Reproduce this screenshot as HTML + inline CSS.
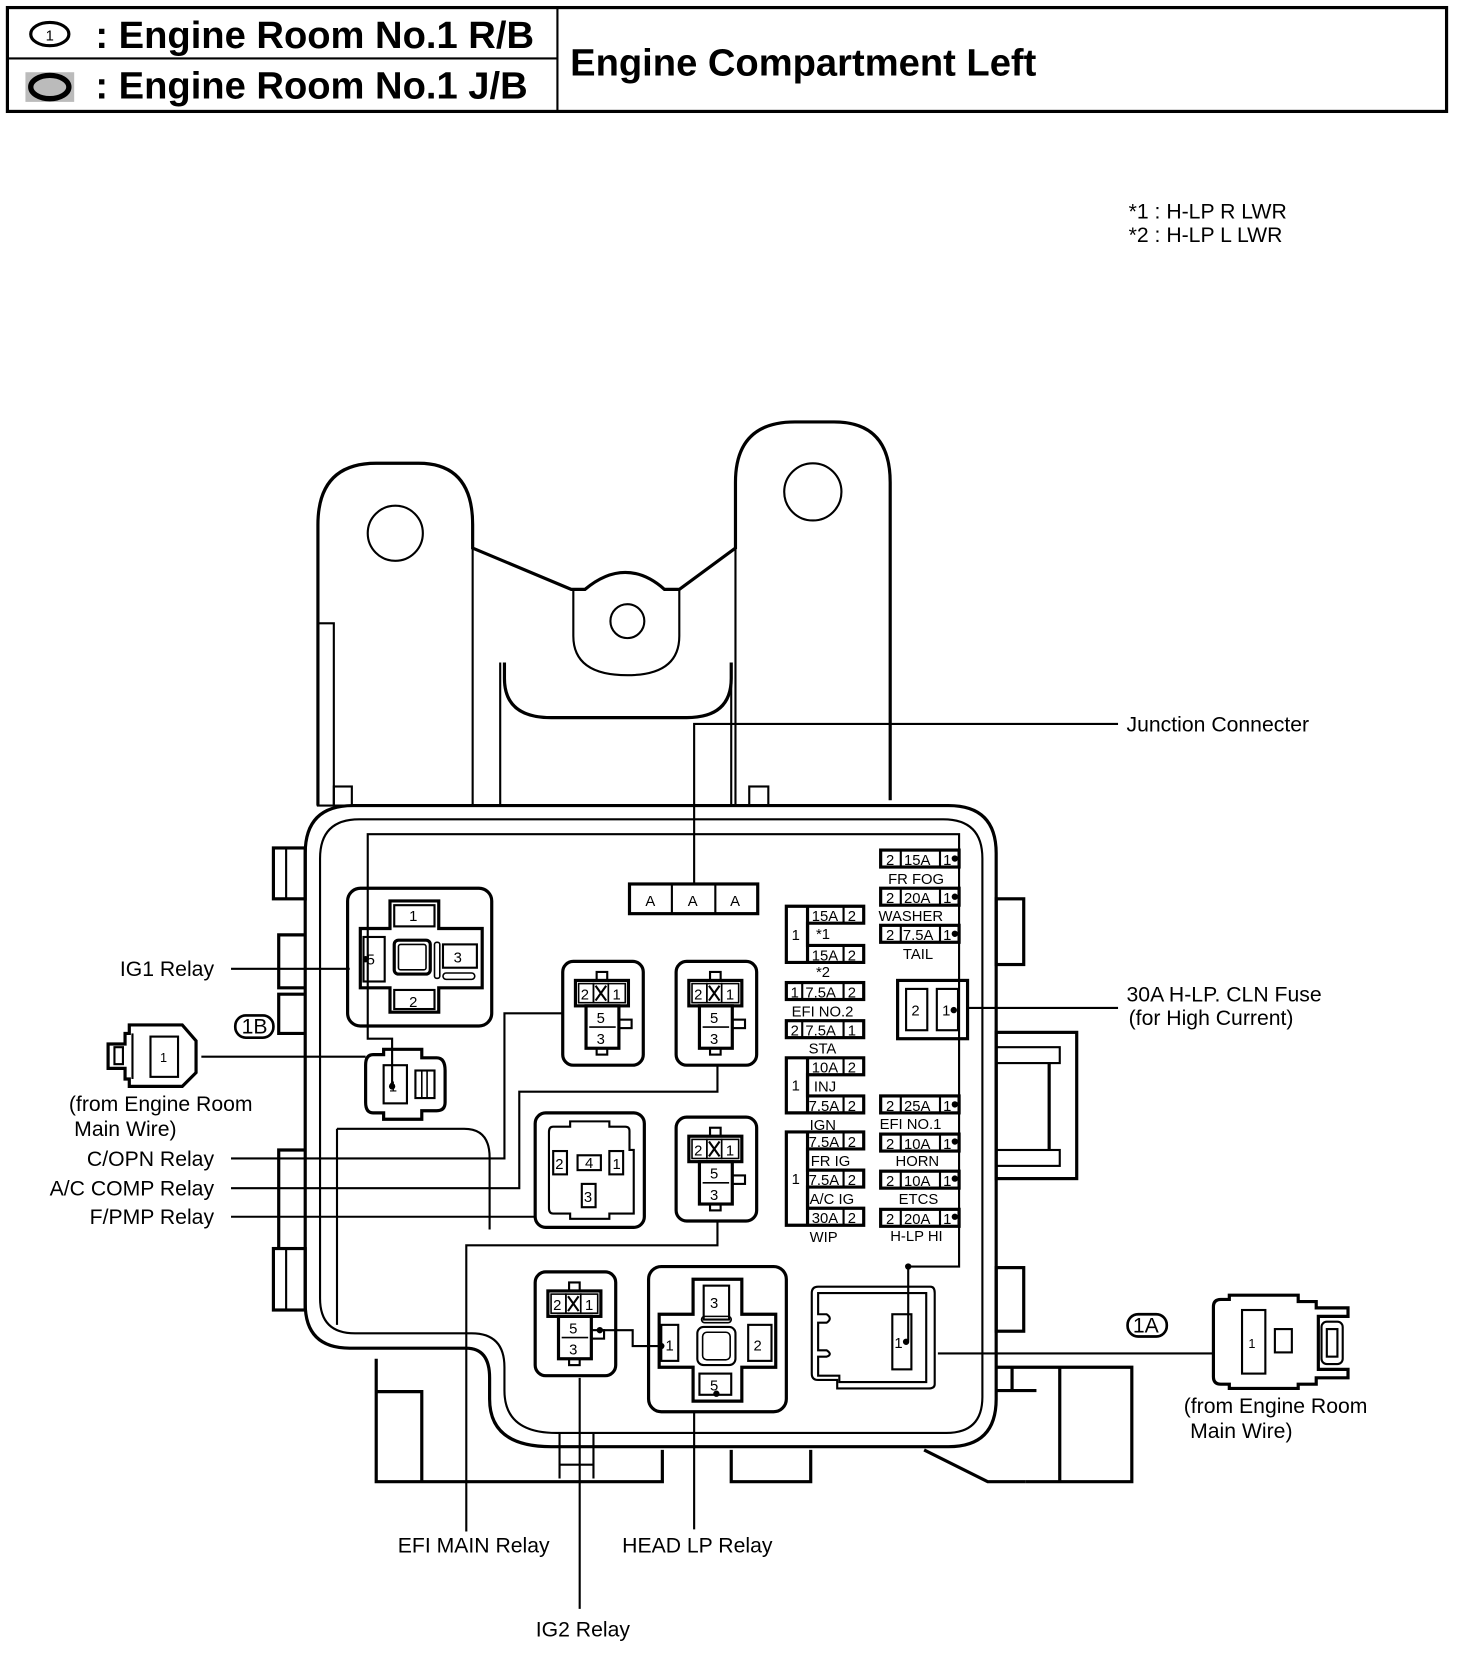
<!DOCTYPE html>
<html><head><meta charset="utf-8"><style>
html,body{margin:0;padding:0;background:#fff}
svg{display:block}
text{font-family:"Liberation Sans",sans-serif;fill:#000}
.t{font-size:20px}
.f{font-size:14px}
.h{font-size:36px;font-weight:bold}
</style></head><body>
<svg width="1472" height="1662" viewBox="0 0 1389 1568" xmlns="http://www.w3.org/2000/svg">
<g fill="none" stroke="#000">
<!-- header -->
<rect x="7" y="7" width="1358" height="98" stroke-width="3"/>
<line x1="526" y1="7" x2="526" y2="105" stroke-width="2"/>
<line x1="7" y1="55" x2="526" y2="55" stroke-width="2"/>
<ellipse cx="47" cy="32" rx="18" ry="11" stroke-width="3"/>
<rect x="24" y="68" width="46" height="28" fill="#bbb" stroke="none"/>
<ellipse cx="47" cy="82" rx="18" ry="11" stroke-width="5"/>
</g>
<text x="43" y="38" style="font-size:14px">1</text>
<text x="90" y="45" class="h">: Engine Room No.1 R/B</text>
<text x="90" y="93" class="h">: Engine Room No.1 J/B</text>
<text x="538" y="71" class="h">Engine Compartment Left</text>

<text x="1065" y="206" class="t">*1 : H-LP R LWR</text>
<text x="1065" y="228" class="t">*2 : H-LP L LWR</text>

<g fill="none" stroke="#000" stroke-width="3">
<!-- bracket -->
<path d="M300,760 V495 Q300,437 355,437 H395 Q446,437 446,495 V517 L539,556 H552 Q571,540 590,540 Q609,540 627,556 H641 L694,517 V455 Q694,398 750,398 H787 Q840,398 840,455 V755"/>
<circle cx="373" cy="503" r="26" stroke-width="2"/>
<circle cx="767" cy="464" r="27" stroke-width="2"/>
<circle cx="592" cy="586" r="16" stroke-width="2"/>
<path d="M541,556 V600 Q541,637 592,637 Q641,637 641,600 V556" stroke-width="2"/>
<path d="M476,625 V640 Q476,677 520,677 H648 Q690,677 690,640 V625" />
<g stroke-width="2">
<line x1="446" y1="517" x2="446" y2="760"/>
<line x1="472" y1="625" x2="472" y2="760"/>
<line x1="690" y1="625" x2="690" y2="760"/>
<line x1="694" y1="517" x2="694" y2="760"/>
<rect x="300" y="588" width="15" height="172"/>
<rect x="315" y="742" width="17" height="18"/>
<rect x="707" y="742" width="18" height="18"/>
</g>
<!-- housing -->
<path d="M288,805 Q288,760 333,760 H895 Q940,760 940,805 V1320 Q940,1365 895,1365 H520 Q462,1365 462,1320 V1300 Q462,1272 440,1272 H330 Q288,1272 288,1230 Z"/>
<path d="M302,810 Q302,773 339,773 H890 Q927,773 927,810 V1318 Q927,1352 893,1352 H525 Q476,1352 476,1312 V1290 Q476,1258 445,1258 H335 Q302,1258 302,1225 Z" stroke-width="2"/>
<path d="M318,1065 H438 Q462,1065 462,1092 V1160" stroke-width="2"/>
<line x1="318" y1="1065" x2="318" y2="1250" stroke-width="2"/>
<!-- left tabs -->
<rect x="258" y="800" width="30" height="48"/>
<line x1="270" y1="800" x2="270" y2="848" stroke-width="2"/>
<path d="M288,882 H263 V932 H288 M288,938 H263 V975 H288"/>
<path d="M288,1085 H263 V1178"/>
<rect x="258" y="1178" width="30" height="58"/>
<line x1="270" y1="1178" x2="270" y2="1236" stroke-width="2"/>
<!-- right tabs -->
<rect x="940" y="848" width="26" height="62"/>
<rect x="940" y="974" width="76" height="138"/>
<rect x="940" y="988" width="60" height="15" stroke-width="2"/>
<rect x="940" y="1085" width="60" height="15" stroke-width="2"/>
<line x1="990" y1="1003" x2="990" y2="1085"/>
<rect x="940" y="1196" width="26" height="60"/>
<path d="M940,1290 H1068 V1398 H968 M1000,1290 V1398 M940,1312 H978 M955,1290 V1312"/>
<!-- bottom base -->
<path d="M355,1282 V1398 H625 V1368 M355,1313 H398 V1398" />
<path d="M690,1368 V1398 H765 V1368"/>
<path d="M872,1368 L932,1398 H968" />
<path d="M528,1352 V1395 M560,1352 V1395 M528,1382 H560" stroke-width="2"/>

<!-- IG1 relay -->
<rect x="328" y="838" width="136" height="130" rx="12"/>
<path d="M368,850 H414 V876 H455 V932 H414 V955 H368 V932 H340 V876 H368 Z"/>
<rect x="372" y="854" width="38" height="20" stroke-width="2"/>
<rect x="372" y="934" width="38" height="18" stroke-width="2"/>
<rect x="343" y="884" width="20" height="42" stroke-width="2"/>
<rect x="418" y="891" width="32" height="22" stroke-width="2"/>
<rect x="372" y="887" width="34" height="32" rx="4"/>
<rect x="376" y="891" width="26" height="24" rx="2" stroke-width="1.5"/>
<rect x="410" y="889" width="5" height="34" rx="2" stroke-width="1.5"/>
<rect x="418" y="918" width="30" height="6" rx="3" stroke-width="1.5"/>
</g>
<text x="386" y="869" class="f">1</text>
<text x="386" y="950" class="f">2</text>
<text x="346" y="910" class="f">5</text>
<text x="428" y="908" class="f">3</text>

<g fill="none" stroke="#000" stroke-width="3">
<!-- 1B inner connector -->
<path d="M352,995 H362 V990 H398 V998 H412 Q420,998 420,1010 V1040 Q420,1048 412,1048 H398 V1056 H362 V1050 H352 Q345,1050 345,1040 V1005 Q345,995 352,995 Z"/>
<rect x="362" y="1005" width="22" height="36" stroke-width="2"/>
<rect x="392" y="1010" width="18" height="26" stroke-width="2"/>
<line x1="398" y1="1010" x2="398" y2="1036" stroke-width="1.5"/>
<line x1="403" y1="1010" x2="403" y2="1036" stroke-width="1.5"/>
</g>
<text x="367" y="1030" class="f">1</text>

<!-- 4-pin relays -->
<g id="r4" fill="none" stroke="#000">
<rect x="531" y="907" width="76" height="98" rx="10" stroke-width="3"/>
<rect x="543" y="925" width="50" height="24" stroke-width="3"/>
<rect x="563" y="917" width="10" height="8" stroke-width="2"/>
<rect x="546" y="928" width="14" height="18" stroke-width="1.5"/>
<rect x="560" y="928" width="14" height="18" stroke-width="1.5"/>
<rect x="574" y="928" width="16" height="18" stroke-width="1.5"/>
<path d="M562,930 L572,944 M572,930 L562,944" stroke-width="2"/>
<rect x="553" y="949" width="31" height="40" stroke-width="3"/>
<line x1="556" y1="969" x2="581" y2="969" stroke-width="1.5"/>
<rect x="584" y="962" width="12" height="8" stroke-width="2"/>
<rect x="563" y="989" width="10" height="6" stroke-width="2"/>
</g>
<g id="r4t" class="f">
<text x="548" y="943">2</text><text x="578" y="943">1</text>
<text x="563" y="965">5</text><text x="563" y="985">3</text>
</g>
<use href="#r4" transform="translate(107,0)"/><use href="#r4t" transform="translate(107,0)"/>
<use href="#r4" transform="translate(107,147)"/><use href="#r4t" transform="translate(107,147)"/>
<use href="#r4" transform="translate(-26,293)"/><use href="#r4t" transform="translate(-26,293)"/>

<!-- A/C COMP relay -->
<g fill="none" stroke="#000">
<rect x="505" y="1050" width="103" height="108" rx="10" stroke-width="3"/>
<path d="M522,1063 H538 V1058 H575 V1063 H590 Q594,1063 594,1067 V1085 H598 V1145 H575 V1150 H538 V1145 H522 Q518,1145 518,1140 V1068 Q518,1063 522,1063 Z" stroke-width="2"/>
<rect x="522" y="1086" width="13" height="22" stroke-width="2"/>
<rect x="575" y="1086" width="13" height="22" stroke-width="2"/>
<rect x="545" y="1090" width="22" height="14" stroke-width="2"/>
<rect x="549" y="1117" width="13" height="22" stroke-width="2"/>
</g>
<g class="f"><text x="524" y="1103">2</text><text x="578" y="1103">1</text><text x="552" y="1102">4</text><text x="551" y="1134">3</text></g>

<!-- HEAD LP relay -->
<g fill="none" stroke="#000">
<rect x="612" y="1195" width="130" height="137" rx="12" stroke-width="3"/>
<path d="M654,1207 H700 V1240 H732 V1290 H700 V1322 H654 V1290 H622 V1240 H654 Z" stroke-width="3"/>
<rect x="664" y="1213" width="24" height="32" stroke-width="2"/>
<rect x="624" y="1250" width="16" height="34" stroke-width="2"/>
<rect x="706" y="1250" width="22" height="34" stroke-width="2"/>
<rect x="660" y="1296" width="30" height="20" stroke-width="2"/>
<rect x="658" y="1252" width="36" height="36" rx="6" stroke-width="2"/>
<rect x="663" y="1257" width="26" height="26" rx="4" stroke-width="1.5"/>
<rect x="662" y="1242" width="28" height="6" rx="3" stroke-width="1.5"/>
</g>
<g class="f"><text x="670" y="1234">3</text><text x="628" y="1274">1</text><text x="711" y="1274">2</text><text x="670" y="1312">5</text></g>

<!-- H-LP fuse block -->
<g fill="none" stroke="#000" stroke-width="2">
<path d="M772,1214 H878 Q882,1214 882,1220 V1306 Q882,1310 876,1310 H790 V1302 H772 Q766,1302 766,1296 V1220 Q766,1214 772,1214 Z"/>
<path d="M772,1220 H874 V1304 H792 V1298 H772 V1280 H780 Q786,1278 780,1274 H772 V1248 H780 Q786,1244 780,1240 H772 Z"/>
<rect x="842" y="1240" width="18" height="52"/>
</g>
<text x="844" y="1272" class="f">1</text>

<!-- Junction connector AAA -->
<g fill="none" stroke="#000" stroke-width="3">
<rect x="594" y="834" width="121" height="28"/>
<line x1="634" y1="834" x2="634" y2="862" stroke-width="2"/>
<line x1="675" y1="834" x2="675" y2="862" stroke-width="2"/>
</g>
<g class="f"><text x="609" y="855">A</text><text x="649" y="855">A</text><text x="689" y="855">A</text></g>

<!-- right column fuses -->
<g id="fr" fill="none" stroke="#000">
<rect x="831" y="802" width="74" height="16" stroke-width="3"/>
<line x1="850" y1="802" x2="850" y2="818" stroke-width="2"/>
<line x1="887" y1="802" x2="887" y2="818" stroke-width="2"/>
</g>
<g class="f">
<text x="836" y="816">2</text><text x="853" y="816">15A</text><text x="890" y="816">1</text>
<text x="838" y="834">FR FOG</text>
</g>
<use href="#fr" transform="translate(0,36)"/>
<g class="f"><text x="836" y="852">2</text><text x="853" y="852">20A</text><text x="890" y="852">1</text><text x="829" y="869">WASHER</text></g>
<use href="#fr" transform="translate(0,71)"/>
<g class="f"><text x="836" y="887">2</text><text x="852" y="887">7.5A</text><text x="890" y="887">1</text><text x="852" y="905">TAIL</text></g>
<use href="#fr" transform="translate(0,232)"/>
<g class="f"><text x="836" y="1048">2</text><text x="853" y="1048">25A</text><text x="890" y="1048">1</text><text x="830" y="1065">EFI NO.1</text></g>
<use href="#fr" transform="translate(0,268)"/>
<g class="f"><text x="836" y="1084">2</text><text x="853" y="1084">10A</text><text x="890" y="1084">1</text><text x="845" y="1100">HORN</text></g>
<use href="#fr" transform="translate(0,303)"/>
<g class="f"><text x="836" y="1119">2</text><text x="853" y="1119">10A</text><text x="890" y="1119">1</text><text x="848" y="1136">ETCS</text></g>
<use href="#fr" transform="translate(0,339)"/>
<g class="f"><text x="836" y="1155">2</text><text x="853" y="1155">20A</text><text x="890" y="1155">1</text><text x="840" y="1171">H-LP HI</text></g>

<!-- 30A fuse -->
<g fill="none" stroke="#000">
<rect x="847" y="925" width="66" height="55" stroke-width="3"/>
<rect x="855" y="933" width="20" height="39" stroke-width="2"/>
<rect x="884" y="933" width="20" height="39" stroke-width="2"/>
</g>
<g class="f"><text x="860" y="958">2</text><text x="889" y="958">1</text></g>

<!-- left column fuses -->
<g fill="none" stroke="#000">
<path d="M742,855 H815 V871 H762 V892 H815 V908 H742 Z" stroke-width="3"/>
<line x1="762" y1="855" x2="762" y2="908" stroke-width="3"/>
<line x1="796" y1="855" x2="796" y2="871" stroke-width="2"/>
<line x1="796" y1="892" x2="796" y2="908" stroke-width="2"/>
<rect x="742" y="927" width="73" height="16" stroke-width="3"/>
<line x1="757" y1="927" x2="757" y2="943" stroke-width="2"/><line x1="796" y1="927" x2="796" y2="943" stroke-width="2"/>
<rect x="742" y="963" width="73" height="16" stroke-width="3"/>
<line x1="757" y1="963" x2="757" y2="979" stroke-width="2"/><line x1="796" y1="963" x2="796" y2="979" stroke-width="2"/>
<path d="M742,998 H815 V1014 H762 V1034 H815 V1050 H742 Z" stroke-width="3"/>
<line x1="762" y1="998" x2="762" y2="1050" stroke-width="3"/>
<line x1="796" y1="998" x2="796" y2="1014" stroke-width="2"/><line x1="796" y1="1034" x2="796" y2="1050" stroke-width="2"/>
<path d="M742,1068 H815 V1084 H762 V1104 H815 V1120 H762 V1140 H815 V1156 H742 Z" stroke-width="3"/>
<line x1="762" y1="1068" x2="762" y2="1156" stroke-width="3"/>
<line x1="796" y1="1068" x2="796" y2="1084" stroke-width="2"/><line x1="796" y1="1104" x2="796" y2="1120" stroke-width="2"/><line x1="796" y1="1140" x2="796" y2="1156" stroke-width="2"/>
</g>
<g class="f">
<text x="747" y="887">1</text><text x="766" y="869">15A</text><text x="800" y="869">2</text>
<text x="770" y="886">*1</text>
<text x="766" y="906">15A</text><text x="800" y="906">2</text>
<text x="770" y="922">*2</text>
<text x="746" y="941">1</text><text x="760" y="941">7.5A</text><text x="800" y="941">2</text>
<text x="747" y="959">EFI NO.2</text>
<text x="746" y="977">2</text><text x="760" y="977">7.5A</text><text x="800" y="977">1</text>
<text x="763" y="994">STA</text>
<text x="747" y="1029">1</text><text x="766" y="1012">10A</text><text x="800" y="1012">2</text>
<text x="768" y="1030">INJ</text>
<text x="763" y="1048">7.5A</text><text x="800" y="1048">2</text>
<text x="764" y="1066">IGN</text>
<text x="747" y="1117">1</text>
<text x="763" y="1082">7.5A</text><text x="800" y="1082">2</text>
<text x="765" y="1100">FR IG</text>
<text x="763" y="1118">7.5A</text><text x="800" y="1118">2</text>
<text x="764" y="1136">A/C IG</text>
<text x="766" y="1154">30A</text><text x="800" y="1154">2</text>
<text x="764" y="1172">WIP</text>
</g>

<!-- wires / leader lines -->
<g fill="none" stroke="#000" stroke-width="2">
<path d="M370,1025 V980 H347 V787 H905 V1195 H857 V1265"/>
<path d="M655,834 V683 H1055"/>
<line x1="913" y1="951" x2="1055" y2="951"/>
<line x1="885" y1="1277" x2="1145" y2="1277"/>
<line x1="218" y1="914" x2="330" y2="914"/>
<line x1="190" y1="997" x2="345" y2="997"/>
<path d="M218,1093 H476 V956 H531"/>
<path d="M218,1121 H490 V1030 H677 V1005"/>
<path d="M218,1148 H505"/>
<path d="M440,1445 V1175 H677 V1152"/>
<line x1="547" y1="1300" x2="547" y2="1518"/>
<line x1="655" y1="1332" x2="655" y2="1443"/>
<path d="M566,1255 H597 V1270 H624"/>
</g>
<g fill="#000">
<circle cx="370" cy="1025" r="3"/><circle cx="345" cy="905" r="3"/>
<circle cx="901" cy="810" r="3"/><circle cx="901" cy="846" r="3"/><circle cx="901" cy="881" r="3"/>
<circle cx="901" cy="1042" r="3"/><circle cx="901" cy="1077" r="3"/><circle cx="901" cy="1112" r="3"/><circle cx="901" cy="1148" r="3"/>
<circle cx="900" cy="953" r="3"/><circle cx="857" cy="1195" r="3"/><circle cx="855" cy="1266" r="3"/>
<circle cx="566" cy="1255" r="3"/><circle cx="624" cy="1270" r="3"/><circle cx="676" cy="1315" r="3"/>
</g>

<!-- 1B external connector -->
<g fill="none" stroke="#000" stroke-width="3">
<path d="M118,975 H122 V967 H172 L185,982 V1012 L172,1025 H122 V1018 H118 V1008 H102 V985 H118 Z"/>
<rect x="108" y="988" width="8" height="16" stroke-width="2"/>
<rect x="142" y="978" width="26" height="38" stroke-width="2"/>
<line x1="125" y1="975" x2="125" y2="1018" stroke-width="2"/>
</g>
<text x="151" y="1002" style="font-size:12px">1</text>
<rect x="222" y="958" width="36" height="21" rx="10" fill="none" stroke="#000" stroke-width="2.5"/>
<text x="228" y="975" class="t">1B</text>

<!-- 1A external connector -->
<g fill="none" stroke="#000" stroke-width="3">
<path d="M1152,1226 H1160 V1222 H1225 V1228 H1242 V1234 H1272 V1242 H1244 V1292 H1272 V1300 H1242 V1306 H1225 V1310 H1160 V1306 H1152 Q1145,1306 1145,1299 V1233 Q1145,1226 1152,1226 Z"/>
<rect x="1172" y="1236" width="22" height="60" stroke-width="2"/>
<rect x="1203" y="1254" width="16" height="22" stroke-width="2"/>
<rect x="1247" y="1247" width="20" height="40" rx="5" stroke-width="2"/>
<rect x="1252" y="1254" width="10" height="26" stroke-width="2"/>
</g>
<text x="1178" y="1272" style="font-size:12px">1</text>
<rect x="1064" y="1240" width="37" height="21" rx="10" fill="none" stroke="#000" stroke-width="2.5"/>
<text x="1069" y="1257" class="t">1A</text>

<!-- labels -->
<g class="t">
<text x="202" y="921" text-anchor="end">IG1 Relay</text>
<text x="65" y="1048">(from Engine Room</text>
<text x="70" y="1072">Main Wire)</text>
<text x="202" y="1100" text-anchor="end">C/OPN Relay</text>
<text x="202" y="1128" text-anchor="end">A/C COMP Relay</text>
<text x="202" y="1155" text-anchor="end">F/PMP Relay</text>
<text x="1063" y="690">Junction Connecter</text>
<text x="1063" y="945">30A H-LP. CLN Fuse</text>
<text x="1065" y="967">(for High Current)</text>
<text x="1117" y="1333">(from Engine Room</text>
<text x="1123" y="1357">Main Wire)</text>
<text x="447" y="1465" text-anchor="middle">EFI MAIN Relay</text>
<text x="658" y="1465" text-anchor="middle">HEAD LP Relay</text>
<text x="550" y="1544" text-anchor="middle">IG2 Relay</text>
</g>
</svg>
</body></html>
